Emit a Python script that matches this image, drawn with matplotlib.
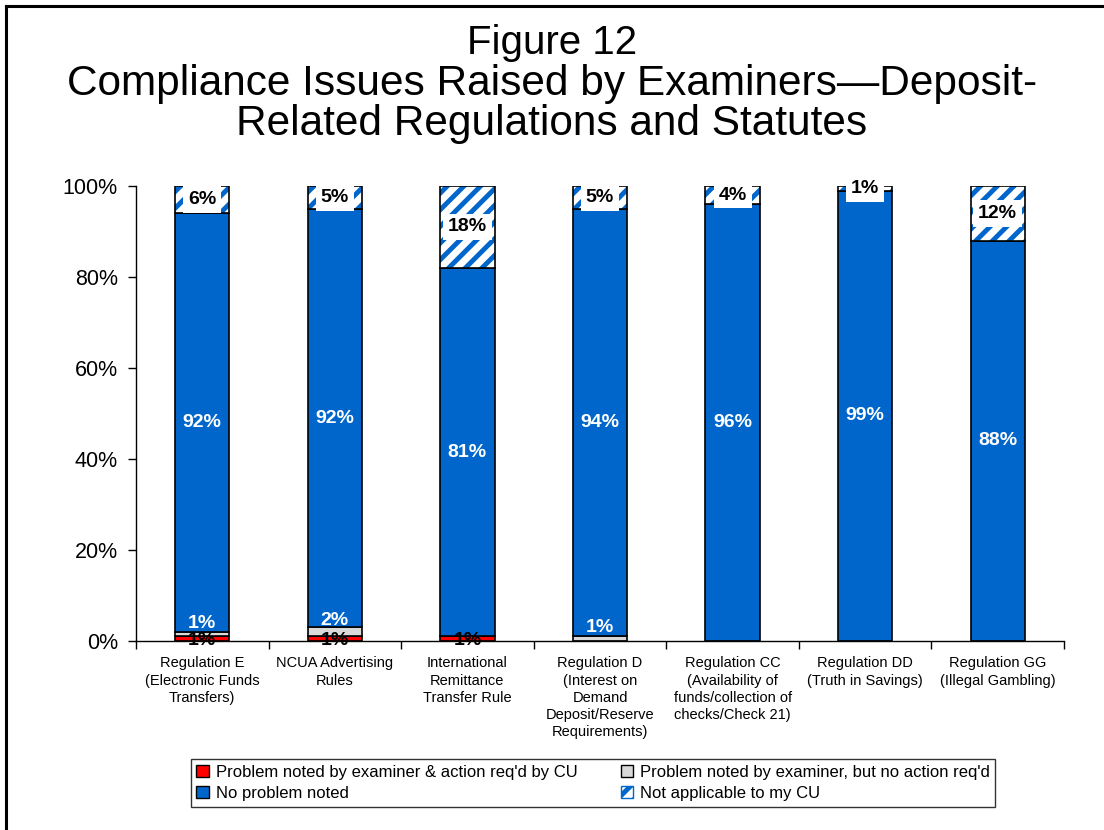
import matplotlib
matplotlib.use("Agg")
import matplotlib.pyplot as plt
from matplotlib.lines import Line2D
from matplotlib.patches import Patch
import numpy as np

plt.rcParams["font.family"] = ["Liberation Sans", "DejaVu Sans"]
plt.rcParams["hatch.linewidth"] = 3.5

categories = [
    "Regulation E\n(Electronic Funds\nTransfers)",
    "NCUA Advertising\nRules",
    "International\nRemittance\nTransfer Rule",
    "Regulation D\n(Interest on\nDemand\nDeposit/Reserve\nRequirements)",
    "Regulation CC\n(Availability of\nfunds/collection of\nchecks/Check 21)",
    "Regulation DD\n(Truth in Savings)",
    "Regulation GG\n(Illegal Gambling)",
]
action_required = [1, 1, 1, 0, 0, 0, 0]
no_action = [1, 2, 0, 1, 0, 0, 0]
no_problem = [92, 92, 81, 94, 96, 99, 88]
not_applicable = [6, 5, 18, 5, 4, 1, 12]

series_names = [
    "Problem noted by examiner & action req'd by CU",
    "Problem noted by examiner, but no action req'd",
    "No problem noted",
    "Not applicable to my CU",
]

RED = "#FF0000"
GRAY = "#D9D9D9"
BLUE = "#0066CC"

fig = plt.figure(figsize=(11.04, 8.30), dpi=100)
ax = fig.add_axes([136 / 1104, 1 - 641 / 830, (1064 - 136) / 1104, (641 - 186) / 830])

x = np.arange(len(categories))
w = 0.41
red = np.array(action_required)
gray = np.array(no_action)
blue = np.array(no_problem)
hatch = np.array(not_applicable)

ax.bar(x, red, w, color=RED, edgecolor="black", linewidth=1.2)
ax.bar(x, gray, w, bottom=red, color=GRAY, edgecolor="black", linewidth=1.2)
ax.bar(x, blue, w, bottom=red + gray, color=BLUE, edgecolor="black", linewidth=1.2)
top_base = red + gray + blue
ax.bar(x, hatch, w, bottom=top_base, color="white", edgecolor=BLUE, hatch="//", linewidth=0)
ax.bar(x, hatch, w, bottom=top_base, fill=False, edgecolor="black", linewidth=1.2)

lab_kw = dict(ha="center", va="center", fontsize=14, fontweight="bold")
for i in range(len(categories)):
    if red[i] > 0:
        ax.text(x[i], red[i] / 2 - 0.3, f"{red[i]}%", color="black", **lab_kw)
    if gray[i] > 0:
        ax.text(x[i], red[i] + gray[i] / 2 + 2.4, f"{gray[i]}%", color="white", **lab_kw)
    if blue[i] > 0:
        ax.text(x[i], red[i] + gray[i] + blue[i] / 2, f"{blue[i]}%", color="white", **lab_kw)
    if hatch[i] > 0:
        ax.text(x[i], top_base[i] + hatch[i] / 2, f"{hatch[i]}%", color="black",
                bbox=dict(facecolor="white", edgecolor="none", pad=3.5), **lab_kw)

ax.set_xlim(-0.5, len(categories) - 0.5)
ax.set_ylim(0, 100)
ax.set_yticks(np.arange(0, 101, 20))
ax.set_yticklabels([f"{v}%" for v in range(0, 101, 20)], fontsize=15.5)
ax.tick_params(axis="y", direction="out", length=6, width=1, pad=7)
ax.set_xticks(x)
ax.set_xticklabels(categories, fontsize=10.5, linespacing=1.3, va="top")
ax.tick_params(axis="x", length=0, pad=11)
ax.set_xticks(np.arange(-0.5, len(categories)), minor=True)
ax.tick_params(axis="x", which="minor", direction="out", length=6, width=1)
ax.spines["top"].set_visible(False)
ax.spines["right"].set_visible(False)
ax.spines["left"].set_linewidth(1)
ax.spines["bottom"].set_linewidth(1)

fig.text(0.5, 1 - 43 / 830, "Figure 12", ha="center", va="center", fontsize=29)
fig.text(0.5, 1 - 84 / 830, "Compliance Issues Raised by Examiners\u2014Deposit-",
         ha="center", va="center", fontsize=30.5)
fig.text(0.5, 1 - 124 / 830, "Related Regulations and Statutes",
         ha="center", va="center", fontsize=30.5)

handles = [
    Patch(facecolor=RED, edgecolor="black", label=series_names[0]),
    Patch(facecolor=BLUE, edgecolor="black", label=series_names[2]),
    Patch(facecolor=GRAY, edgecolor="black", label=series_names[1]),
    Patch(facecolor="white", edgecolor=BLUE, hatch="//", label=series_names[3]),
]
leg = fig.legend(handles=handles, ncol=2, loc="center",
                 bbox_to_anchor=((189 + 997) / 2 / 1104, 1 - 783 / 830),
                 fontsize=12, frameon=True, fancybox=False, edgecolor="black",
                 handlelength=0.75, handleheight=0.75, handletextpad=0.4,
                 columnspacing=2.6, labelspacing=0.35, borderpad=0.35)
leg.get_frame().set_linewidth(1)

# outer frame lines (left and top)
fig.add_artist(Line2D([6 / 1104, 6 / 1104], [0, 1 - 6 / 830], color="black", linewidth=2.2,
                      transform=fig.transFigure))
fig.add_artist(Line2D([6 / 1104, 1], [1 - 6 / 830, 1 - 6 / 830], color="black", linewidth=2.2,
                      transform=fig.transFigure))

fig.savefig("out.png", dpi=100, facecolor="white")
